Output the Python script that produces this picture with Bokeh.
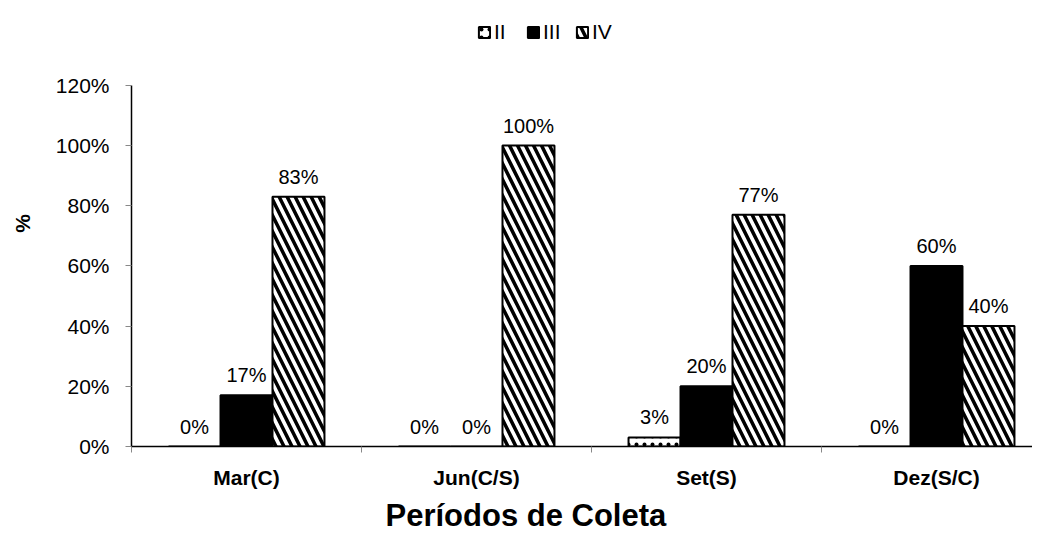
from bokeh.plotting import figure
from bokeh.models import Range1d, FixedTicker, Legend, LegendItem, ColumnDataSource, Title
from bokeh.core.properties import value
from bokeh.embed import file_html
from bokeh.resources import INLINE

periods = ["Mar(C)", "Jun(C/S)", "Set(S)", "Dez(S/C)"]
series_names = ["II", "III", "IV"]
vals_ii = [0, 0, 3, 0]
vals_iii = [17, 0, 20, 60]
vals_iv = [83, 100, 77, 40]
y_ticks = [0, 20, 40, 60, 80, 100, 120]

FONT = "Liberation Sans"
BW = 0.226
FRAME_H = 447
Y_TOP_PX = 362  # pixels from 0% to 120%
LEFT = 131

p = figure(width=1032, height=537, x_range=Range1d(0, (1032 - LEFT) / 230),
           y_range=Range1d(0, 120 * FRAME_H / Y_TOP_PX),
           output_backend="svg", toolbar_location=None,
           min_border_left=LEFT, min_border_right=0, min_border_top=0, min_border_bottom=537 - FRAME_H)
p.outline_line_color = None
p.xgrid.visible = False
p.ygrid.visible = False

centers = [i + 0.5 for i in range(len(periods))]
styles = [
    dict(fill_color="white", hatch_pattern="dot", hatch_scale=8, hatch_weight=1, hatch_color="black"),
    dict(fill_color="black"),
    dict(fill_color="white", hatch_pattern="left_diagonal_line", hatch_scale=16, hatch_weight=3.5, hatch_color="black"),
]
all_vals = [vals_ii, vals_iii, vals_iv]
offsets = [-BW, 0, BW]
renderers = []
for name, vals, off, st in zip(series_names, all_vals, offsets, styles):
    src = ColumnDataSource(dict(x=[c + off for c in centers], top=vals,
                                lab=[f"{v}%" for v in vals]))
    r = p.vbar(x="x", top="top", bottom=0, width=BW, source=src,
               line_color="black", line_width=2, **st)
    renderers.append(r)
    p.text(x="x", y="top", text="lab", source=src, text_align="center", text_baseline="bottom",
           y_offset=-9, text_font=value(FONT), text_font_size="20px", text_color="black")

# axes
p.xaxis.ticker = FixedTicker(ticks=centers, minor_ticks=[0, 1, 2, 3])
p.xaxis.major_label_overrides = {c: lab for c, lab in zip(centers, periods)}
p.xaxis.major_tick_out = 0
p.xaxis.major_tick_in = 0
p.xaxis.minor_tick_out = 6
p.xaxis.minor_tick_in = 0
p.xaxis.minor_tick_line_color = "#888888"
p.xaxis.axis_line_color = "black"
p.xaxis.axis_line_width = 1.5
p.xaxis.major_label_text_font = FONT
p.xaxis.major_label_text_font_style = "bold"
p.xaxis.major_label_text_font_size = "21px"
p.xaxis.major_label_text_color = "black"
p.xaxis.major_label_standoff = 13

p.yaxis.ticker = FixedTicker(ticks=y_ticks, minor_ticks=[])
p.yaxis.bounds = (0, 120)
p.yaxis.major_label_overrides = {t: f"{t}%" for t in y_ticks}
p.yaxis.major_tick_out = 6
p.yaxis.major_tick_in = 0
p.yaxis.major_tick_line_color = "#888888"
p.yaxis.axis_line_color = "black"
p.yaxis.axis_line_width = 1.5
p.yaxis.major_label_text_font = FONT
p.yaxis.major_label_text_font_size = "21px"
p.yaxis.major_label_text_color = "black"
p.yaxis.major_label_standoff = 16
p.yaxis.axis_label = "%"
p.yaxis.axis_label_text_font = FONT
p.yaxis.axis_label_text_font_style = "bold"
p.yaxis.axis_label_text_font_size = "21px"
p.yaxis.axis_label_text_color = "black"
p.yaxis.axis_label_standoff = 19

xtitle = Title(text="Períodos de Coleta", align="left", offset=254,
               text_font=FONT, text_font_style="bold", text_font_size="31px",
               text_color="black", standoff=9)
p.add_layout(xtitle, "below")

legend = Legend(items=[LegendItem(label=n, renderers=[r]) for n, r in zip(series_names, renderers)],
                orientation="horizontal", location=(346, 402))
legend.padding = 0
legend.margin = 0
legend.border_line_alpha = 0
legend.background_fill_alpha = 0
legend.glyph_width = 14
legend.glyph_height = 14
legend.label_standoff = 3
legend.spacing = 12
legend.label_text_font = FONT
legend.label_text_font_size = "21px"
legend.label_text_color = "black"
p.add_layout(legend, "center")

open("out.html", "w").write(file_html(p, INLINE))
